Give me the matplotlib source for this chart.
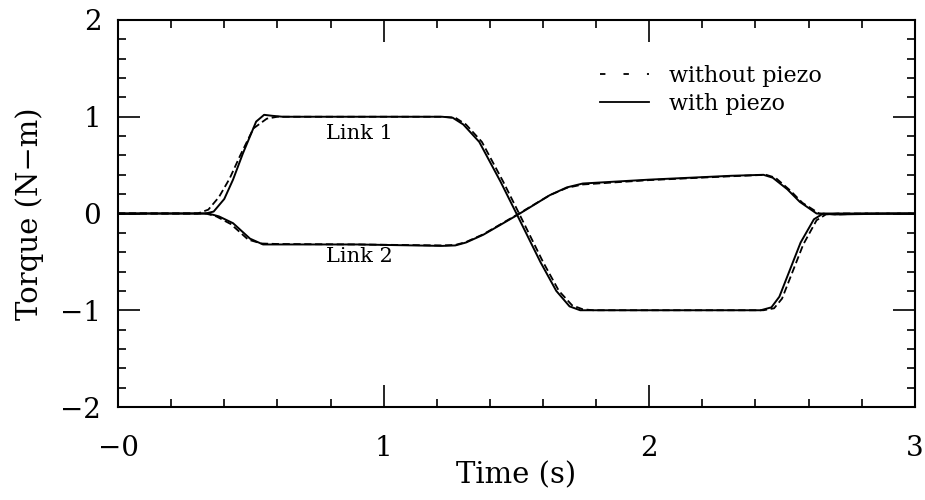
import numpy as np
import matplotlib
matplotlib.use('Agg')
import matplotlib.pyplot as plt
from matplotlib.ticker import MultipleLocator, FixedLocator
from matplotlib.lines import Line2D

plt.rcParams['font.family'] = ['DejaVu Serif']

# Link 1, with piezo (solid)
t1_with = [0, 0.33, 0.36, 0.40, 0.433, 0.47, 0.52, 0.55, 0.58, 0.62, 1.22, 1.26, 1.30, 1.36, 1.44,
           1.50, 1.59, 1.65, 1.70, 1.74, 1.78, 2.42, 2.46, 2.49, 2.53, 2.57, 2.62, 2.655, 2.70, 3.0]
y1_with = [0, 0, 0.02, 0.15, 0.35, 0.62, 0.95, 1.02, 1.01, 1.0, 1.0, 0.99, 0.92, 0.74, 0.33,
           0.0, -0.50, -0.80, -0.96, -1.0, -1.0, -1.0, -0.97, -0.86, -0.58, -0.30, -0.06, 0.0, 0.0, 0.0]
# Link 1, without piezo (dashed)
t1_without = [0, 0.30, 0.34, 0.38, 0.42, 0.46, 0.51, 0.56, 0.60, 0.65, 1.22, 1.27, 1.31, 1.37, 1.45,
              1.51, 1.60, 1.66, 1.71, 1.75, 1.79, 2.43, 2.47, 2.50, 2.54, 2.58, 2.63, 2.665, 2.71, 3.0]
y1_without = [0, 0, 0.04, 0.17, 0.36, 0.60, 0.88, 0.98, 1.0, 1.0, 1.0, 0.99, 0.92, 0.74, 0.33,
              0.0, -0.50, -0.80, -0.95, -0.99, -1.0, -1.0, -0.98, -0.88, -0.60, -0.32, -0.07, -0.01, 0.0, 0.0]

# Link 2, with piezo (solid)
t2_with = [0, 0.34, 0.38, 0.433, 0.497, 0.546, 0.60, 0.9, 1.22, 1.27, 1.31, 1.375, 1.438, 1.513, 1.626,
           1.69, 1.75, 2.0, 2.31, 2.43, 2.465, 2.52, 2.567, 2.63, 2.70, 2.82, 3.0]
y2_with = [0, 0, -0.03, -0.10, -0.26, -0.32, -0.32, -0.32, -0.335, -0.33, -0.30, -0.22, -0.12, 0.0, 0.19,
           0.27, 0.31, 0.35, 0.39, 0.40, 0.37, 0.25, 0.12, 0.0, -0.01, -0.005, 0.0]
# Link 2, without piezo (dashed)
t2_without = [0, 0.33, 0.37, 0.425, 0.49, 0.54, 0.60, 0.9, 1.22, 1.27, 1.31, 1.375, 1.438, 1.513, 1.626,
              1.69, 1.75, 2.0, 2.31, 2.44, 2.475, 2.53, 2.577, 2.64, 2.71, 2.82, 3.0]
y2_without = [0, 0, -0.03, -0.11, -0.27, -0.31, -0.315, -0.32, -0.33, -0.325, -0.295, -0.215, -0.115, 0.005, 0.19,
              0.265, 0.30, 0.345, 0.385, 0.40, 0.37, 0.24, 0.11, 0.0, -0.01, 0.0, 0.0]

fig = plt.figure(figsize=(9.25, 5), dpi=100)
ax = fig.add_axes([0.1276, 0.186, 0.8614, 0.774])

ax.plot(t1_without, y1_without, color='black', lw=1.3, dashes=(4, 2))
ax.plot(t2_without, y2_without, color='black', lw=1.3, dashes=(4, 2))
ax.plot(t1_with, y1_with, color='black', lw=1.4)
ax.plot(t2_with, y2_with, color='black', lw=1.4)

ax.set_xlim(0, 3)
ax.set_ylim(-2, 2)
ax.xaxis.set_major_locator(FixedLocator([0, 1, 2, 3]))
ax.set_xticklabels(['\u22120', '1', '2', '3'])
ax.yaxis.set_major_locator(FixedLocator([-2, -1, 0, 1, 2]))
ax.set_yticklabels(['\u22122', '\u22121', '0', '1', '2'])
ax.xaxis.set_minor_locator(MultipleLocator(0.2))
ax.yaxis.set_minor_locator(MultipleLocator(0.2))
ax.tick_params(which='both', direction='in', top=True, right=True, width=1.2, labelsize=20)
ax.tick_params(which='major', length=16)
ax.tick_params(which='minor', length=6)
ax.tick_params(axis='x', which='major', pad=20)
ax.tick_params(axis='y', which='major', pad=12)
for s in ax.spines.values():
    s.set_linewidth(1.5)

ax.set_xlabel('Time (s)', fontsize=21, labelpad=0)
ax.set_ylabel('Torque (N\u2212m)', fontsize=21, labelpad=12)

ax.text(0.91, 0.83, 'Link 1', fontsize=15, ha='center', va='center')
ax.text(0.91, -0.44, 'Link 2', fontsize=15, ha='center', va='center')

handles = [Line2D([], [], color='black', lw=1.3, dashes=(3, 10)),
           Line2D([], [], color='black', lw=1.3)]
ax.legend(handles, ['without piezo', 'with piezo'], loc='upper left', bbox_to_anchor=(0.58, 0.935),
          frameon=False, fontsize=16, handlelength=2.2, handletextpad=0.9, labelspacing=0.25)

fig.savefig('out.png', dpi=100)
